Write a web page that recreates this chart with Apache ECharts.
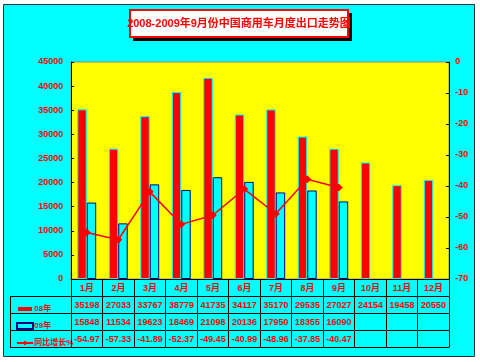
<!DOCTYPE html>
<html><head><meta charset="utf-8">
<script src="https://cdn.jsdelivr.net/npm/echarts@6/dist/echarts.min.js"></script>
<style>html,body{margin:0;padding:0;background:#fff}#c{width:480px;height:362px}</style>
</head><body><div id="c"></div>
<script>
var titleText = '2008-2009年9月份中国商用车月度出口走势图';
var months = ['1月','2月','3月','4月','5月','6月','7月','8月','9月','10月','11月','12月'];
var sales08 = [35198,27033,33767,38779,41735,34117,35170,29535,27027,24154,19458,20550];
var sales09 = [15848,11534,19623,18469,21098,20136,17950,18355,16090,null,null,null];
var growth = [-54.97,-57.33,-41.89,-52.37,-49.45,-40.99,-48.96,-37.85,-40.47,null,null,null];
var name08 = '08年', name09 = '09年', nameG = '同比增长%';

var G = {l:71, t:62, r:449, b:279};
var rowH = 17, legL = 10;
var FONT = '"Liberation Sans","Noto Sans CJK SC",sans-serif';
var red = '#FF0000';

function rowAxis(idx, labels, off, showLabel){
  return {
    type:'category', data:labels, gridIndex:0, position:'bottom', offset:off,
    axisLine:{show:true, onZero:false, lineStyle:{color:'#000', width:1}},
    axisTick:{show:showLabel, length:rowH, interval:0, lineStyle:{color:'#000'}},
    axisLabel:{show:showLabel, interval:0, color:red, fontWeight:'bold', fontSize:9, fontFamily:FONT, margin:5},
    splitLine:{show:false}
  };
}
function fmt(a, d){ return a.map(function(v){ return v==null ? '' : (d ? v.toFixed(2) : String(v)); }); }

var chart = echarts.init(document.getElementById('c'), null, {renderer:'canvas'});
var graphics = [
  {type:'rect', shape:{x:3.5,y:4.5,width:471,height:352}, style:{fill:'#00FFFF', stroke:'#1a3a3a', lineWidth:1}, z:-10},
  {type:'rect', shape:{x:133,y:13,width:219,height:28}, style:{fill:'#000'}, z:10},
  {type:'rect', shape:{x:130,y:10,width:218,height:27}, style:{fill:'#fff', stroke:red, lineWidth:2}, z:11},
  {type:'text', x:239, y:24, style:{text:titleText, fill:red, font:'bold 11px "Liberation Sans","Noto Sans CJK SC",sans-serif', textAlign:'center', textVerticalAlign:'middle'}, z:12},
  {type:'line', shape:{x1:legL+0.5,y1:G.b+rowH,x2:legL+0.5,y2:G.b+4*rowH}, style:{stroke:'#000', lineWidth:1}, z:5}
];
for (var i=1;i<=4;i++){
  graphics.push({type:'line', shape:{x1:legL,y1:G.b+i*rowH+0.5,x2:G.l,y2:G.b+i*rowH+0.5}, style:{stroke:'#000', lineWidth:1}, z:5});
}
function plain(v){ return String(v); }
chart.setOption({
  animation:false,
  backgroundColor:'#fff',
  graphic:graphics,
  grid:{left:G.l, top:G.t, right:480-G.r, bottom:362-G.b, show:true, backgroundColor:'#FFFF00', borderColor:'#8a8a8a', borderWidth:1},
  legend:{
    orient:'vertical', left:11, top:G.b+rowH+2, itemGap:5, itemWidth:16, itemHeight:6,
    textStyle:{color:red, fontWeight:'bold', fontSize:8, fontFamily:FONT, lineHeight:12, padding:[0,0,0,-4]},
    data:[{name:name08, icon:'rect'},{name:name09, icon:'rect'},{name:nameG}]
  },
  xAxis:[
    rowAxis(0, months, 0, true),
    rowAxis(1, fmt(sales08,false), rowH, true),
    rowAxis(2, fmt(sales09,false), 2*rowH, true),
    rowAxis(3, fmt(growth,true), 3*rowH, true),
    rowAxis(4, months.map(function(){return '';}), 4*rowH, false)
  ],
  yAxis:[
    {type:'value', min:0, max:45000, interval:5000, position:'left',
     axisLine:{show:true, onZero:false, lineStyle:{color:'#000'}}, axisTick:{show:true, inside:true, length:3, lineStyle:{color:'#000'}},
     axisLabel:{color:red, fontWeight:'bold', fontSize:9, fontFamily:FONT, margin:8, formatter:plain}, splitLine:{show:false}},
    {type:'value', min:-70, max:0, interval:10, position:'right',
     axisLine:{show:true, onZero:false, lineStyle:{color:'#000'}}, axisTick:{show:true, inside:true, length:3, lineStyle:{color:'#000'}},
     axisLabel:{color:red, fontWeight:'bold', fontSize:9, fontFamily:FONT, margin:6, formatter:plain}, splitLine:{show:false}}
  ],
  series:[
    {name:name08, type:'bar', xAxisIndex:0, yAxisIndex:0, data:sales08, barGap:'0%', barCategoryGap:'40%',
     itemStyle:{color:red, borderColor:'#00FFFF', borderWidth:1}},
    {name:name09, type:'bar', xAxisIndex:0, yAxisIndex:0, data:sales09, barGap:'0%', barCategoryGap:'40%',
     itemStyle:{color:'#00FFFF', borderColor:'#000080', borderWidth:1}},
    {name:nameG, type:'line', xAxisIndex:0, yAxisIndex:1, data:growth, symbol:'diamond', symbolSize:8,
     lineStyle:{color:red, width:1.5}, itemStyle:{color:red}, z:5}
  ]
});
</script></body></html>
